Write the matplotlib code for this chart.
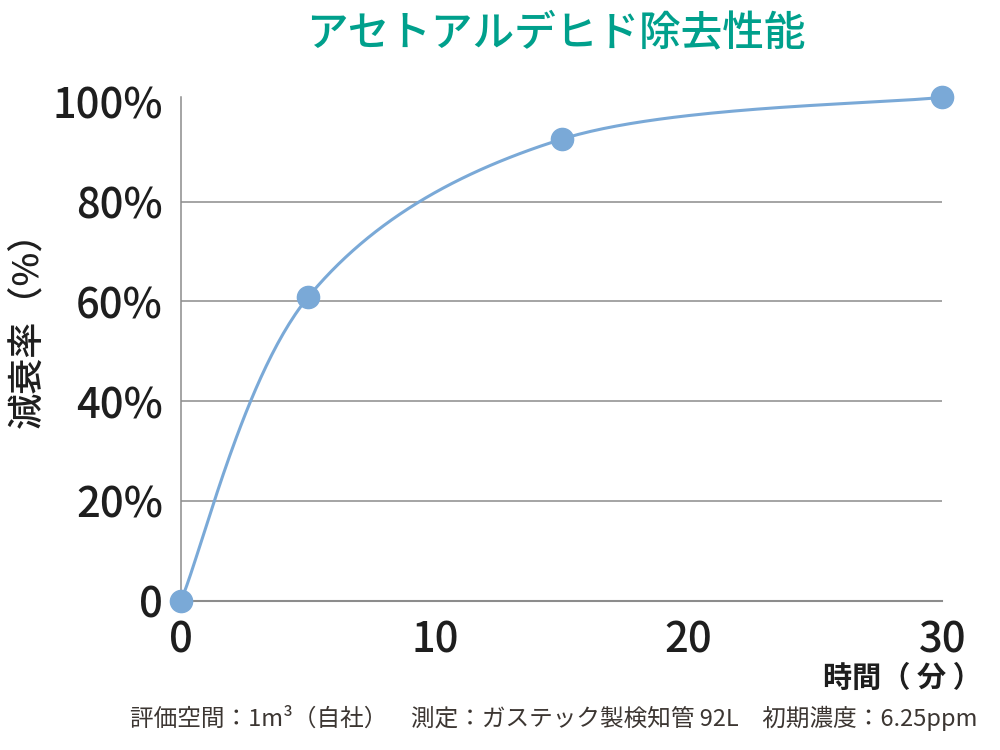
import numpy as np
import matplotlib
matplotlib.use("Agg")
import matplotlib.pyplot as plt

plt.rcParams['font.family'] = ['Noto Sans CJK JP', 'DejaVu Sans']

# Data
times = [0, 5, 15, 30]
reduction = [0, 60.8, 92.5, 100.9]
y_ticks = [0, 20, 40, 60, 80, 100]
y_tick_labels = ['0', '20%', '40%', '60%', '80%', '100%']
x_ticks = [0, 10, 20, 30]
x_tick_labels = ['0', '10', '20', '30']
title = 'アセトアルデヒド除去性能'
ylabel = '減衰率（%）'
xlabel = '時間（ 分 ）'
footnote = '評価空間：1m³（自社）　測定：ガステック製検知管 92L　初期濃度：6.25ppm'

LINE = '#7aa9d7'
GRID = '#8c8c8c'
TEXT = '#1e1e1e'

fig = plt.figure(figsize=(10, 7.5), dpi=100)
ax = fig.add_axes([0.181, 0.199, 0.7615, 0.672])
ax.set_xlim(0, 30)
ax.set_ylim(0, 101)

for s in ['top', 'right']:
    ax.spines[s].set_visible(False)
ax.spines['left'].set_color(GRID)
ax.spines['left'].set_linewidth(1.1)
ax.spines['bottom'].set_color(GRID)
ax.spines['bottom'].set_linewidth(1.5)
for yv in [20, 40, 60, 80]:
    ax.axhline(yv, color=GRID, lw=1.1, zorder=1)

ax.set_yticks(y_ticks)
ax.set_yticklabels(y_tick_labels)
ax.set_xticks(x_ticks)
ax.set_xticklabels(x_tick_labels)
ax.tick_params(axis='both', length=0, labelsize=30, labelcolor=TEXT)
ax.tick_params(axis='y', pad=13)
ax.tick_params(axis='x', pad=13)
for lab in ax.get_xticklabels() + ax.get_yticklabels():
    lab.set_fontweight('medium')

# Smooth curve (Excel-style Bezier smoothing) computed in display space
pts = ax.transData.transform(np.column_stack([times, reduction]))
n = len(pts)
curve = []
t = np.linspace(0, 1, 60)[:, None]
for i in range(n - 1):
    p0 = pts[i]
    p3 = pts[i + 1]
    pm = pts[i - 1] if i > 0 else pts[i]
    pp = pts[i + 2] if i + 2 < n else pts[i + 1]
    c1 = p0 + (p3 - pm) / 6.0
    c2 = p3 - (pp - p0) / 6.0
    seg = ((1 - t) ** 3) * p0 + 3 * ((1 - t) ** 2) * t * c1 + 3 * (1 - t) * t ** 2 * c2 + t ** 3 * p3
    curve.append(seg)
curve = np.vstack(curve)
curve_data = ax.transData.inverted().transform(curve)
ax.plot(curve_data[:, 0], curve_data[:, 1], color=LINE, lw=2.2, clip_on=False, zorder=3)
ax.plot(times, reduction, 'o', color=LINE, ms=16, clip_on=False, zorder=4)

fig.text(0.556, 0.956, title, color='#00a08c', fontsize=30, fontweight='medium',
         ha='center', va='center')
fig.text(0.028, 0.572, ylabel, color=TEXT, fontsize=26, fontweight='medium',
         rotation=90, ha='center', va='center')
fig.text(0.982, 0.096, xlabel, color=TEXT, fontsize=21, fontweight='bold',
         ha='right', va='center')
fig.text(0.977, 0.043, footnote, color='#3c3632', fontsize=17,
         ha='right', va='center')

fig.savefig('out.png', dpi=100)
